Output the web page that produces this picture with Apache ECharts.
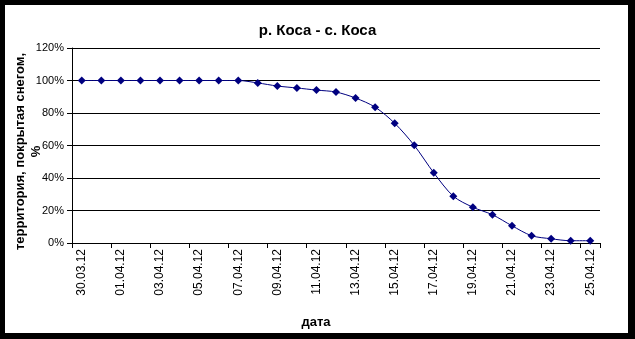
<!DOCTYPE html>
<html><head><meta charset="utf-8">
<script src="https://cdn.jsdelivr.net/npm/echarts@6/dist/echarts.min.js"></script>
<style>html,body{margin:0;padding:0;background:#000;}#c{width:635px;height:339px;}</style>
</head><body><div id="c"></div>
<script>
const titleText = 'р. Коса - с. Коса';
const yAxisTitle = 'территория, покрытая снегом,\n%';
const xAxisTitle = 'дата';
const dates = ['30.03.12','31.03.12','01.04.12','02.04.12','03.04.12','04.04.12','05.04.12','06.04.12','07.04.12','08.04.12','09.04.12','10.04.12','11.04.12','12.04.12','13.04.12','14.04.12','15.04.12','16.04.12','17.04.12','18.04.12','19.04.12','20.04.12','21.04.12','22.04.12','23.04.12','24.04.12','25.04.12'];
const snowCover = [100,100,100,100,100,100,100,100,100,98.5,96.6,95.4,94.1,92.9,89.2,83.6,73.7,60.1,43.2,28.8,22.0,17.4,10.6,4.5,2.6,1.4,1.4];
const yTicks = [0,20,40,60,80,100,120];

const chart = echarts.init(document.getElementById('c'));
const font = 'Liberation Sans, Arial, sans-serif';
chart.setOption({
  backgroundColor: '#000',
  animation: false,
  graphic: [{type:'rect', z:-10, silent:true, shape:{x:5,y:5,width:623,height:328}, style:{fill:'#fff'}}],
  title: {text: titleText, left: 'center', top: 18, textStyle:{fontFamily:font, fontSize:15, fontWeight:'bold', color:'#000'}},
  grid: {left:72, right:35, top:48, bottom:96, containLabel:false, outerBoundsMode:'none'},
  xAxis: {
    type:'category', data: dates, boundaryGap:true,
    name: xAxisTitle, nameLocation:'middle', nameGap:73, nameMoveOverlap:false,
    nameTextStyle:{fontFamily:font, fontSize:13, fontWeight:'bold', color:'#000', padding:[0,40,0,0]},
    axisLine:{lineStyle:{color:'#000', width:1}},
    axisTick:{show:true, interval:1, length:5, lineStyle:{color:'#000'}},
    axisLabel:{interval:1, rotate:90, margin:6, fontFamily:font, fontSize:12, color:'#000'},
    splitLine:{show:false}
  },
  yAxis: {
    type:'value', min:yTicks[0], max:yTicks[yTicks.length-1], interval:20,
    name: yAxisTitle, nameLocation:'middle', nameGap:28, nameMoveOverlap:false,
    nameTextStyle:{fontFamily:font, fontSize:13, fontWeight:'bold', color:'#000', lineHeight:16, padding:[0,12,0,0]},
    axisLine:{show:true, lineStyle:{color:'#000', width:1}},
    axisTick:{show:true, length:5, lineStyle:{color:'#000'}},
    axisLabel:{formatter:'{value}%', margin:8, fontFamily:font, fontSize:11, color:'#000'},
    splitLine:{show:true, lineStyle:{color:'#000', width:1}}
  },
  series: [{
    type:'line', data: snowCover, smooth:0.3,
    symbol:'diamond', symbolSize:8,
    lineStyle:{color:'#000080', width:1},
    itemStyle:{color:'#000080'}
  }]
});
</script></body></html>
